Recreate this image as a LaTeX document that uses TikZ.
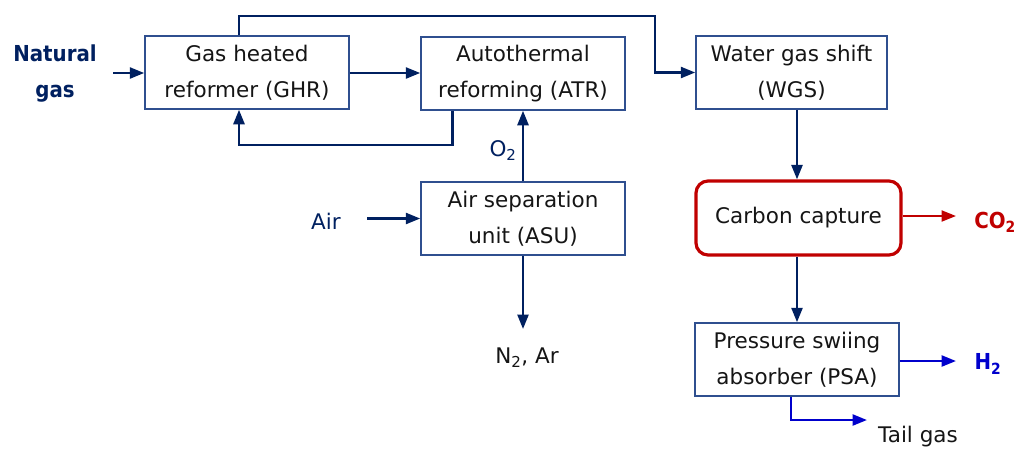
\documentclass[tikz,border=0pt]{standalone}
\usepackage{fontspec}
\setmainfont{DejaVu Sans}
\newfontfamily\narrowbold{DejaVu Sans Bold}[FakeStretch=0.9]
\usetikzlibrary{arrows.meta}
\definecolor{navy}{HTML}{002060}
\definecolor{boxblue}{HTML}{2F4F8F}
\definecolor{cred}{HTML}{C00000}
\definecolor{hblue}{HTML}{0000CC}
\definecolor{txt}{HTML}{151515}
\begin{document}
\begin{tikzpicture}[x=1pt,y=-1pt,
  every node/.style={font=\fontsize{21.5}{36}\selectfont, text=txt},
  box/.style={draw=boxblue, line width=1.5pt, minimum width=204pt, minimum height=73pt, align=center, inner sep=0pt},
  ccbox/.style={draw=cred, line width=3.2pt, rounded corners=12pt, minimum width=205pt, minimum height=74pt, align=center, inner sep=0pt},
  lbl/.style={inner sep=0pt, align=center},
  boldlbl/.style={lbl, font=\narrowbold\fontsize{22}{36}\selectfont},
  flow/.style={draw=navy, line width=2.5pt, -{Triangle[length=14.5pt,width=11pt]}},
  redflow/.style={draw=cred, line width=2.2pt, -{Triangle[length=14.5pt,width=11pt]}},
  blueflow/.style={draw=hblue, line width=2.5pt, -{Triangle[length=14.5pt,width=11pt]}}
]
\useasboundingbox (0,0) rectangle (1019,451);

\node[box] (ghr) at (247,72.5) {Gas heated\\reformer (GHR)};
\node[box] (atr) at (523,73.5) {Autothermal\\reforming (ATR)};
\node[box, minimum width=191pt] (wgs) at (791.5,72.5) {Water gas shift\\(WGS)};
\node[box] (asu) at (523,218.5) {Air separation\\unit (ASU)};
\node[ccbox] (cc) at (798.5,218) {Carbon capture};
\node[box] (psa) at (797,359.5) {Pressure swiing\\absorber (PSA)};

\node[boldlbl, text=navy] (ng) at (55,74) {Natural\\gas};
\node[lbl, text=navy] (air) at (326,221) {Air};
\node[lbl, text=navy] (o2) at (503,151) {O\textsubscript{2}};
\node[lbl] (n2) at (527,358) {N\textsubscript{2}, Ar};
\node[boldlbl, text=cred] (co2) at (995,222) {CO\textsubscript{2}};
\node[boldlbl, text=hblue] (h2) at (988,364) {H\textsubscript{2}};
\node[lbl] (tail) at (918,437) {Tail gas};

\coordinate (ngs) at (113,73);
\coordinate (top) at (655,16);
\coordinate (loop) at (239,145);
\coordinate (airs) at (367,218.5);
\coordinate (n2e) at (523,329);
\coordinate (co2e) at (956,216);
\coordinate (h2e) at (956,361);
\coordinate (tge) at (867,420);

\draw[flow] (ngs) -- (ngs -| ghr.west);
\draw[flow] (ghr.east |- 0,73) -- (atr.west |- 0,73);
\draw[flow] ([xshift=-8pt]ghr.north) |- (top) |- (wgs.west);
\draw[flow] ([xshift=-70.5pt]atr.south) |- (loop) -- ([xshift=-8pt]ghr.south);
\draw[flow] (asu.north) -- (atr.south);
\draw[flow] (airs) -- (asu.west);
\draw[flow] (asu.south) -- (n2e);
\draw[flow] (wgs.south -| 797,0) -- (cc.north -| 797,0);
\draw[flow] (cc.south -| 797,0) -- (psa.north -| 797,0);
\draw[redflow] (cc.east |- co2e) -- (co2e);
\draw[blueflow] (psa.east |- h2e) -- (h2e);
\draw[blueflow] ([xshift=-6pt]psa.south) |- (tge);
\end{tikzpicture}
\end{document}
